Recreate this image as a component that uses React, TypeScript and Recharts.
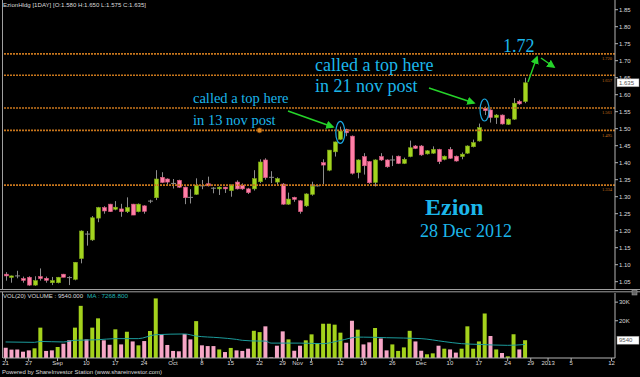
import { Bar, Cell, ComposedChart, Line, ReferenceDot, ReferenceLine, XAxis, YAxis } from "recharts";

// daily candles, index 0 = 21 Aug 2012 ... 90 = 28 Dec 2012
const opens = [
  1.072, 1.063, 1.067, 1.059, 1.063, 1.04, 1.065, 1.06, 1.047, 1.047, 1.072, 1.062, 1.057, 1.118, 1.19, 1.173,
  1.237, 1.268, 1.278, 1.263, 1.264, 1.256, 1.278, 1.256, 1.273, 1.287, 1.297, 1.357, 1.352, 1.339, 1.348, 1.328,
  1.298, 1.307, 1.332, 1.338, 1.325, 1.323, 1.328, 1.318, 1.343, 1.334, 1.323, 1.323, 1.344, 1.408, 1.357, 1.343,
  1.337, 1.278, 1.298, 1.288, 1.273, 1.307, 1.332, 1.4, 1.378, 1.432, 1.469, 1.498, 1.478, 1.371, 1.418, 1.403,
  1.342, 1.418, 1.408, 1.408, 1.419, 1.398, 1.418, 1.449, 1.449, 1.426, 1.428, 1.439, 1.41, 1.439, 1.419, 1.418,
  1.428, 1.447, 1.464, 1.56, 1.555, 1.533, 1.54, 1.513, 1.528, 1.58, 1.58,
];
const highs = [
  1.078, 1.068, 1.082, 1.065, 1.066, 1.066, 1.089, 1.065, 1.064, 1.064, 1.073, 1.066, 1.108, 1.201, 1.199, 1.243,
  1.27, 1.272, 1.279, 1.287, 1.279, 1.298, 1.279, 1.28, 1.275, 1.291, 1.378, 1.372, 1.354, 1.352, 1.35, 1.33,
  1.322, 1.354, 1.349, 1.359, 1.328, 1.33, 1.329, 1.336, 1.348, 1.339, 1.326, 1.378, 1.41, 1.413, 1.375, 1.357,
  1.34, 1.312, 1.3, 1.29, 1.31, 1.344, 1.335, 1.41, 1.437, 1.462, 1.506, 1.5, 1.48, 1.41, 1.428, 1.405,
  1.41, 1.428, 1.41, 1.421, 1.421, 1.415, 1.465, 1.452, 1.452, 1.437, 1.448, 1.441, 1.421, 1.446, 1.421, 1.43,
  1.451, 1.468, 1.515, 1.565, 1.557, 1.543, 1.542, 1.53, 1.59, 1.585, 1.65,
];
const lows = [
  1.053, 1.047, 1.06, 1.047, 1.038, 1.038, 1.053, 1.047, 1.04, 1.045, 1.063, 1.04, 1.054, 1.104, 1.156, 1.17,
  1.225, 1.25, 1.255, 1.26, 1.241, 1.252, 1.246, 1.254, 1.25, 1.281, 1.29, 1.34, 1.335, 1.324, 1.326, 1.278,
  1.28, 1.305, 1.322, 1.33, 1.31, 1.305, 1.311, 1.3, 1.321, 1.32, 1.308, 1.318, 1.34, 1.35, 1.34, 1.335,
  1.276, 1.276, 1.285, 1.25, 1.27, 1.303, 1.33, 1.337, 1.375, 1.418, 1.467, 1.478, 1.365, 1.354, 1.365, 1.338,
  1.33, 1.405, 1.385, 1.39, 1.396, 1.396, 1.416, 1.44, 1.42, 1.424, 1.426, 1.396, 1.407, 1.411, 1.403, 1.41,
  1.426, 1.445, 1.462, 1.54, 1.518, 1.514, 1.512, 1.511, 1.526, 1.57, 1.575,
];
const closes = [
  1.067, 1.067, 1.067, 1.054, 1.04, 1.053, 1.059, 1.054, 1.053, 1.063, 1.063, 1.062, 1.107, 1.199, 1.19, 1.238,
  1.268, 1.258, 1.256, 1.269, 1.256, 1.268, 1.246, 1.278, 1.257, 1.287, 1.352, 1.342, 1.343, 1.339, 1.328, 1.297,
  1.298, 1.334, 1.332, 1.332, 1.325, 1.328, 1.323, 1.334, 1.323, 1.323, 1.312, 1.353, 1.402, 1.356, 1.357, 1.353,
  1.278, 1.293, 1.292, 1.256, 1.308, 1.331, 1.332, 1.393, 1.437, 1.461, 1.493, 1.488, 1.369, 1.408, 1.391, 1.341,
  1.408, 1.408, 1.388, 1.408, 1.398, 1.41, 1.444, 1.442, 1.423, 1.435, 1.439, 1.403, 1.419, 1.413, 1.405, 1.425,
  1.449, 1.459, 1.503, 1.553, 1.533, 1.54, 1.514, 1.528, 1.575, 1.573, 1.635,
];
// volume in thousands, colour flag u = up, d = down
const volumes = [
  5.5, 4.5, 4.5, 3.4, 4.1, 5.2, 16.3, 3.8, 4.1, 5.9, 7.7, 9.5, 16.3, 28, 10, 16.3,
  21.3, 9.5, 7.1, 15.4, 7.3, 14.1, 8.9, 6.8, 9.1, 14.5, 32, 12.9, 7, 3.8, 3.6, 12.9,
  10, 19.8, 6.8, 6.4, 6.4, 4.6, 3.2, 5.4, 4.1, 3.8, 5, 14.6, 13.9, 17, 0.3, 6.6,
  14.3, 10, 3.9, 6.6, 9.5, 12.7, 8, 18.4, 18.4, 17.9, 13.6, 8.2, 20, 15.2, 7.3, 8.4,
  16.1, 10.5, 4.1, 7.3, 3.8, 5.7, 14.6, 8.9, 3.9, 2, 2.5, 6.6, 5, 4.6, 2.9, 5,
  17, 5, 8.9, 23.9, 11.8, 4.6, 2.7, 0.9, 12.7, 4.6, 9.54,
];
const volumeDirs = [
  "d", "d", "d", "d", "d", "u", "u", "d", "d", "u", "d", "d", "u", "u", "d", "u",
  "u", "d", "d", "u", "d", "u", "d", "u", "d", "u", "u", "d", "d", "d", "d", "d",
  "d", "u", "d", "d", "d", "u", "d", "u", "d", "d", "d", "u", "u", "d", "d", "d",
  "d", "u", "d", "d", "u", "u", "u", "u", "u", "u", "u", "d", "d", "u", "d", "d",
  "u", "d", "d", "u", "u", "u", "u", "d", "d", "u", "u", "d", "u", "d", "d", "u",
  "u", "u", "u", "u", "d", "u", "d", "u", "u", "d", "u",
];
// MA(20) of volume, read at a few points
const maIndex = [0, 5, 6, 10, 12, 16, 19, 23, 26, 31, 33, 37, 40, 41, 44, 45, 46, 51, 55, 58, 61, 62, 66, 72, 76, 79, 82, 87, 90];
const maValues = [8.6, 8.4, 8.9, 8.6, 9.5, 9.8, 10.4, 10.4, 12.5, 12.9, 11.8, 10.9, 10.0, 9.5, 9.1, 9.1, 8.0, 8.0, 7.7, 9.4, 11.2, 11.2, 10.9, 10.4, 8.8, 7.7, 7.3, 6.8, 7.27];

const tickIndex = [0, 4, 9, 14, 19, 24, 29, 34, 39, 44, 48, 50.6, 53, 58, 62, 67, 72, 77, 82, 87, 91, 94, 98, 105];
const tickLabels = ["21", "27", "Sep", "10", "17", "24", "Oct", "8", "15", "22", "29", "Nov", "5", "12", "19", "26", "Dec", "10", "17", "24", "29", "2013", "5", "12"];
const priceTicks = [1.05, 1.1, 1.15, 1.2, 1.25, 1.3, 1.35, 1.4, 1.45, 1.5, 1.55, 1.6, 1.65, 1.7, 1.75, 1.8, 1.85];
const levels = [1.72, 1.657, 1.561, 1.495, 1.334];
const levelLabels = ["1.720", "1.657", "1.561", "1.495", "1.334"];

const GREEN = "#a3d41f";
const GREEN_EDGE = "#7fa816";
const PINK = "#ff7fa6";
const PINK_EDGE = "#d9587f";
const WICK = "#8c8c8c";
const ORANGE = "#c8761c";
const CYAN = "#1cb6ea";
const ARROW = "#26d42a";
const TEAL = "#1c9c9c";
const AXIS = "#b4b4b4";
const LABEL = "#dcdcdc";
const X_DOMAIN: [number, number] = [-0.45, 105.6];

interface Row {
  i: number;
  open: number;
  high: number;
  low: number;
  close: number;
  vol: number;
  up: boolean;
  ma: number | null;
}

const rows: Row[] = opens.map((open, i) => {
  const m = maIndex.indexOf(i);
  return {
    i,
    open,
    high: highs[i],
    low: lows[i],
    close: closes[i],
    vol: volumes[i],
    up: volumeDirs[i] === "u",
    ma: m >= 0 ? maValues[m] : null,
  };
});

const smallText = { fill: LABEL, fontSize: 6, fontFamily: "Liberation Sans" };

function Candle(props: any) {
  const { x, y, width, height, payload } = props;
  if (!payload) return null;
  const { open, high, low, close } = payload as Row;
  const top = Math.min(y, y + height);
  const span = Math.abs(height);
  const k = high > low ? span / (high - low) : 0;
  const py = (v: number) => top + (high - v) * k;
  const cx = Math.round(x + width / 2) + 0.5;
  const bodyTop = py(Math.max(open, close));
  const bodyBottom = py(Math.min(open, close));
  const rising = close > open;

  return (
    <g>
      <line x1={cx} x2={cx} y1={top} y2={top + span} stroke={WICK} strokeWidth={1} />
      {open === close ? (
        <line x1={cx - 2.5} x2={cx + 2.5} y1={bodyTop} y2={bodyTop} stroke={WICK} strokeWidth={1} />
      ) : (
        <rect
          x={cx - 2}
          y={bodyTop}
          width={4}
          height={Math.max(1.5, bodyBottom - bodyTop)}
          fill={rising ? GREEN : PINK}
          stroke={rising ? GREEN_EDGE : PINK_EDGE}
          strokeWidth={0.6}
        />
      )}
    </g>
  );
}

function ValueBox({ viewBox, text }: any) {
  if (!viewBox) return null;
  const x = viewBox.x + viewBox.width + 2;
  return (
    <g>
      <rect x={x} y={viewBox.y - 4} width={22} height={8} fill="#ffffff" stroke="#888" strokeWidth={0.5} />
      <text x={x + 2} y={viewBox.y + 2.2} fontSize={6} fontFamily="Liberation Sans" fill="#555">
        {text}
      </text>
    </g>
  );
}

function Ellipse(props: any) {
  const { cx, cy } = props;
  return <ellipse cx={cx} cy={cy} rx={4.5} ry={11} fill="none" stroke="#1aa6e0" strokeWidth={1.2} />;
}

function App(): JSX.Element {
  return (
    <div style={{ position: "absolute", left: 0, top: 0, width: 640, height: 377, background: "#000", overflow: "hidden" }}>
      <div style={{ position: "absolute", left: 0, top: 0 }}>
        <ComposedChart width={640} height={292} data={rows} margin={{ top: 0, right: 0, left: 3, bottom: 3 }}>
          <XAxis dataKey="i" type="number" domain={X_DOMAIN} allowDataOverflow hide />
          <YAxis
            orientation="right"
            width={25}
            type="number"
            domain={[1.0285, 1.8785]}
            allowDataOverflow
            ticks={priceTicks}
            tickFormatter={(v: number) => v.toFixed(2)}
            tick={smallText}
            tickSize={3}
            tickMargin={1}
            tickLine={{ stroke: AXIS }}
            axisLine={{ stroke: AXIS }}
          />
          {levels.map((lv, k) => (
            <ReferenceLine
              key={lv}
              y={lv}
              stroke={ORANGE}
              strokeWidth={1.6}
              strokeDasharray="2 1"
              label={{ value: levelLabels[k], position: "insideTopRight", fill: ORANGE, fontSize: 4.5, offset: 3 }}
            />
          ))}
          <ReferenceLine y={1.635} stroke="none" label={<ValueBox text="1.635" />} />
          <Bar dataKey={(d: Row) => [d.low, d.high]} barSize={4} shape={<Candle />} isAnimationActive={false} />
          <ReferenceDot x={44} y={1.495} r={2.4} fill="#e08a20" stroke="#8a4a0a" strokeWidth={0.8} />
          <ReferenceDot x={58} y={1.489} r={1} shape={<Ellipse />} />
          <ReferenceDot x={83} y={1.555} r={1} shape={<Ellipse />} />
        </ComposedChart>
      </div>

      <div style={{ position: "absolute", left: 0, top: 293 }}>
        <ComposedChart width={640} height={84} data={rows} margin={{ top: 0, right: 0, left: 3, bottom: 0 }}>
          <XAxis
            dataKey="i"
            type="number"
            domain={X_DOMAIN}
            allowDataOverflow
            ticks={tickIndex}
            interval={0}
            tickFormatter={(v: number) => tickLabels[tickIndex.indexOf(v)] ?? ""}
            tick={smallText}
            tickSize={3}
            tickMargin={0}
            height={19}
            tickLine={{ stroke: AXIS }}
            axisLine={{ stroke: AXIS }}
          />
          <YAxis
            orientation="right"
            width={25}
            type="number"
            domain={[0, 34.9]}
            allowDataOverflow
            ticks={[20, 30]}
            tickFormatter={(v: number) => `${v}K`}
            tick={smallText}
            tickSize={3}
            tickMargin={1}
            tickLine={{ stroke: AXIS }}
            axisLine={{ stroke: AXIS }}
          />
          <Bar dataKey="vol" barSize={4} isAnimationActive={false}>
            {rows.map((r) => (
              <Cell key={r.i} fill={r.up ? "#a4d21c" : "#f6a6c6"} />
            ))}
          </Bar>
          <Line type="monotone" dataKey="ma" stroke={TEAL} strokeWidth={1} dot={false} connectNulls isAnimationActive={false} />
          <ReferenceLine y={9.54} stroke="none" label={<ValueBox text="9540" />} />
        </ComposedChart>
      </div>

      <svg width={640} height={377} style={{ position: "absolute", left: 0, top: 0, pointerEvents: "none" }}>
        <defs>
          <marker id="head" viewBox="0 0 10 10" refX="8" refY="5" markerWidth="6" markerHeight="6" orient="auto-start-reverse">
            <path d="M0,0 L10,5 L0,10 z" fill={ARROW} />
          </marker>
        </defs>
        <line x1={2.5} x2={2.5} y1={0} y2={290} stroke="#a0a0a0" />
        <line x1={0} x2={640} y1={289.5} y2={289.5} stroke="#a0a0a0" />
        <line x1={0} x2={640} y1={291.8} y2={291.8} stroke="#a0a0a0" />
        <line x1={2.5} x2={2.5} y1={292} y2={358} stroke="#a0a0a0" />
        <rect x={632} y={290.5} width={5} height={4.5} fill="#666" stroke="#aaa" strokeWidth={0.5} />

        <text x={3} y={7} {...smallText} textLength={143} lengthAdjust="spacingAndGlyphs">
          EzionHldg [1DAY] [O:1.580 H:1.650 L:1.575 C:1.635]
        </text>
        <text x={3} y={297.5} {...smallText} textLength={80} lengthAdjust="spacingAndGlyphs">
          VOL(20)  VOLUME : 9540.000
        </text>
        <text x={87} y={297.5} {...smallText} fill="#22b4b4" textLength={41} lengthAdjust="spacingAndGlyphs">
          MA : 7268.800
        </text>
        <text x={2} y={373.5} {...smallText} textLength={160} lengthAdjust="spacingAndGlyphs">
          Powered by ShareInvestor Station (www.shareinvestor.com)
        </text>

        <g fontFamily="Liberation Serif" fill={CYAN}>
          <text x={193} y={103} fontSize={14.5}>called a top here</text>
          <text x={193} y={125} fontSize={14.5}>in 13 nov post</text>
          <text x={315} y={71} fontSize={18}>called a top here</text>
          <text x={315} y={91.5} fontSize={18}>in 21 nov post</text>
          <text x={503} y={52} fontSize={18}>1.72</text>
          <text x={425} y={215} fontSize={24} fontWeight="bold">Ezion</text>
          <text x={420} y={237} fontSize={18}>28 Dec 2012</text>
        </g>

        <g stroke={ARROW} strokeWidth={1.4} markerEnd="url(#head)">
          <line x1={288} y1={111} x2={333} y2={127} />
          <line x1={429} y1={88} x2={474} y2={103} />
          <line x1={528} y1={82} x2={537} y2={57} />
          <line x1={541} y1={58} x2={554} y2={67} />
        </g>
      </svg>
    </div>
  );
}

export default App;
